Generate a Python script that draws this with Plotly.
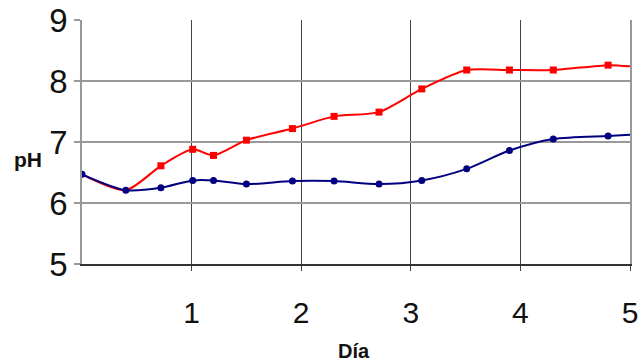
import plotly.graph_objects as go

dias = [0, 0.4, 0.72, 1.01, 1.2, 1.5, 1.92, 2.3, 2.71, 3.1, 3.51, 3.9, 4.3, 4.8, 5.0]
ph_rojo = [6.47, 6.21, 6.61, 6.88, 6.78, 7.03, 7.22, 7.42, 7.49, 7.87, 8.18, 8.18, 8.18, 8.26, 8.24]
ph_azul = [6.47, 6.21, 6.25, 6.37, 6.37, 6.31, 6.36, 6.36, 6.31, 6.37, 6.56, 6.86, 7.05, 7.10, 7.12]
marcas_rojo = [False, False, True, True, True, True, True, True, True, True, True, True, True, True, False]
marcas_azul = [True, True, True, True, True, True, True, True, True, True, True, True, True, True, False]
x_ticks = [1, 2, 3, 4, 5]
y_ticks = [5, 6, 7, 8, 9]

fig = go.Figure()
fig.add_trace(go.Scatter(
    x=dias, y=ph_rojo, mode="lines", line=dict(color="#ff0000", width=2, shape="spline", smoothing=0.7),
    showlegend=False, hoverinfo="skip"))
fig.add_trace(go.Scatter(
    x=[d for d, m in zip(dias, marcas_rojo) if m], y=[p for p, m in zip(ph_rojo, marcas_rojo) if m],
    mode="markers", marker=dict(color="#ff0000", symbol="square", size=7), showlegend=False))
fig.add_trace(go.Scatter(
    x=dias, y=ph_azul, mode="lines", line=dict(color="#000080", width=2, shape="spline", smoothing=0.8),
    showlegend=False, hoverinfo="skip"))
fig.add_trace(go.Scatter(
    x=[d for d, m in zip(dias, marcas_azul) if m], y=[p for p, m in zip(ph_azul, marcas_azul) if m],
    mode="markers", marker=dict(color="#000080", symbol="circle", size=7), showlegend=False))

fig.update_layout(
    width=642, height=364,
    margin=dict(l=82, r=12, t=20, b=100),
    paper_bgcolor="white", plot_bgcolor="white",
    font=dict(family="Liberation Sans, Arial, sans-serif", color="#111111"),
    xaxis=dict(range=[0, 5], tickvals=x_ticks, ticktext=[str(v) for v in x_ticks],
               showgrid=True, gridcolor="#444444", gridwidth=1,
               ticks="outside", ticklen=5, tickcolor="#444444", tickwidth=1,
               ticklabelstandoff=16, automargin=False,
               tickfont=dict(size=30), zeroline=False,
               showline=True, linecolor="#333333", linewidth=2, mirror=False),
    yaxis=dict(range=[5, 9], tickvals=y_ticks, ticktext=[str(v) for v in y_ticks],
               showgrid=True, gridcolor="#999999", gridwidth=2,
               ticks="outside", ticklen=6, tickcolor="#999999", tickwidth=2,
               ticklabelstandoff=0, automargin=False,
               tickfont=dict(size=33), zeroline=False,
               showline=True, linecolor="#999999", linewidth=1.5, mirror=True),
    annotations=[
        dict(text="<b>pH</b>", x=28, y=159, xref="paper", yref="paper", showarrow=False,
             font=dict(size=21)),
        dict(text="<b>Día</b>", x=354, y=351, xref="paper", yref="paper", showarrow=False,
             font=dict(size=20)),
    ],
)
# convert annotation pixel positions to paper coordinates
pw, ph = 642 - 82 - 12, 364 - 20 - 100
for a in fig.layout.annotations:
    px, py = a.x, a.y
    a.x = (px - 82) / pw
    a.y = 1 - (py - 20) / ph
    a.xanchor = "center"
    a.yanchor = "middle"

fig.write_html("out.html", config={"displayModeBar": False},
               post_script="document.body.style.margin='0';document.body.style.overflow='hidden';")
